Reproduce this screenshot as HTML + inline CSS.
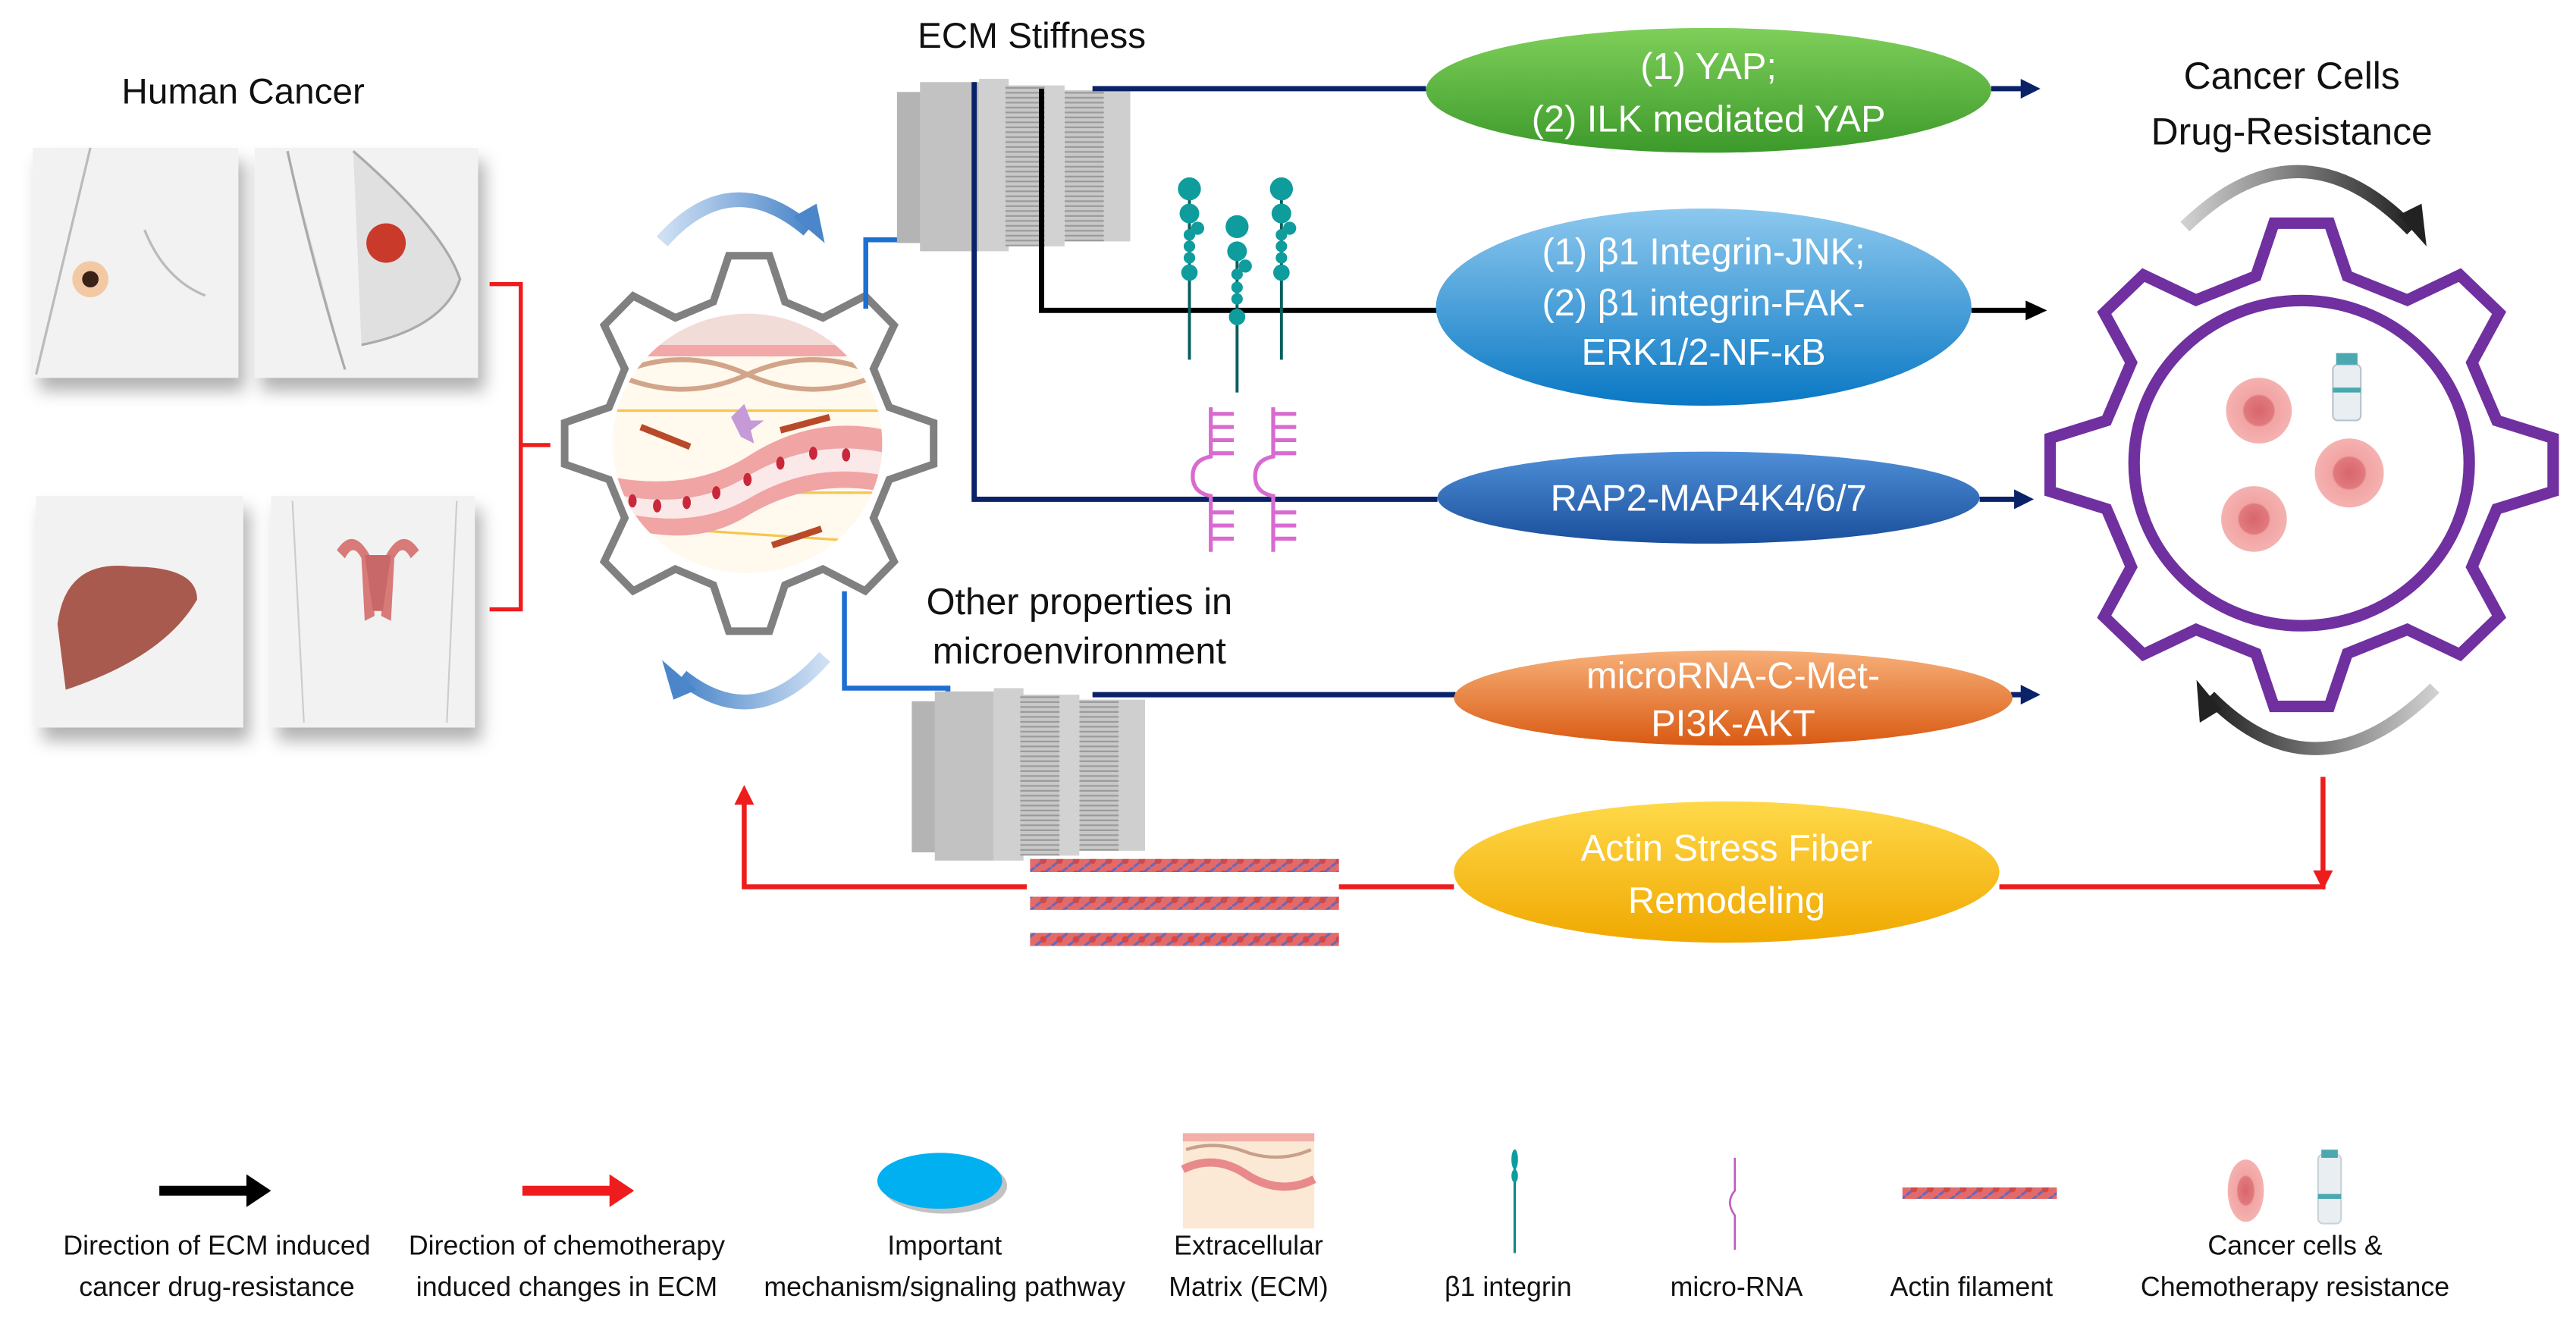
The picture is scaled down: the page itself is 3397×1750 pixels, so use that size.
<!DOCTYPE html>
<html><head><meta charset="utf-8">
<style>
html,body{margin:0;padding:0;background:#fff;}
svg{display:block;}
text{font-family:"Liberation Sans Narrow","Liberation Sans",sans-serif;}
</style></head>
<body>
<svg id="s" width="3397" height="1750" viewBox="0 0 1568 808" preserveAspectRatio="none" xmlns="http://www.w3.org/2000/svg">
<defs>
<linearGradient id="gG" x1="0" y1="0" x2="0" y2="1"><stop offset="0" stop-color="#7fcf5a"/><stop offset="1" stop-color="#3c9a2a"/></linearGradient>
<linearGradient id="gB" x1="0" y1="0" x2="0" y2="1"><stop offset="0" stop-color="#8cc8ee"/><stop offset="1" stop-color="#0a78c4"/></linearGradient>
<linearGradient id="gD" x1="0" y1="0" x2="0" y2="1"><stop offset="0" stop-color="#4f8fd8"/><stop offset="1" stop-color="#1a4f9c"/></linearGradient>
<linearGradient id="gO" x1="0" y1="0" x2="0" y2="1"><stop offset="0" stop-color="#f7b079"/><stop offset="1" stop-color="#d95a12"/></linearGradient>
<linearGradient id="gY" x1="0" y1="0" x2="0" y2="1"><stop offset="0" stop-color="#ffd94a"/><stop offset="1" stop-color="#f0a800"/></linearGradient>
<linearGradient id="gArc" x1="0" y1="0" x2="1" y2="0"><stop offset="0" stop-color="#cfe0f4"/><stop offset="1" stop-color="#4a86c9"/></linearGradient>
<linearGradient id="gArc2" x1="1" y1="0" x2="0" y2="0"><stop offset="0" stop-color="#cfe0f4"/><stop offset="1" stop-color="#4a86c9"/></linearGradient>
<linearGradient id="gK" x1="0" y1="0" x2="1" y2="0"><stop offset="0" stop-color="#d0d0d0"/><stop offset="1" stop-color="#222"/></linearGradient>
<linearGradient id="gK2" x1="1" y1="0" x2="0" y2="0"><stop offset="0" stop-color="#d0d0d0"/><stop offset="1" stop-color="#222"/></linearGradient>
<radialGradient id="gCell"><stop offset="0" stop-color="#d8666c"/><stop offset=".45" stop-color="#e07a7e"/><stop offset=".5" stop-color="#f2a4a4"/><stop offset="1" stop-color="#f4b2b0"/></radialGradient>
<filter id="sh" x="-20%" y="-20%" width="150%" height="150%"><feDropShadow dx="4" dy="8" stdDeviation="5" flood-color="#000" flood-opacity=".3"/></filter>
<pattern id="act" width="10" height="8" patternUnits="userSpaceOnUse"><rect width="10" height="8" fill="#e46a6a"/><path d="M0 8 L10 0" stroke="#6a68b8" stroke-width="1.5"/><circle cx="5" cy="4" r="2" fill="#d04848"/></pattern>
<pattern id="fins" width="4" height="3" patternUnits="userSpaceOnUse"><rect width="4" height="3" fill="#c8c8c8"/><rect y="2" width="4" height="1" fill="#9a9a9a"/></pattern>
</defs>

<text x="148" y="63" font-size="22" text-anchor="middle" fill="#111">Human Cancer</text>
<g filter="url(#sh)">
<rect x="20" y="90" width="125" height="140" fill="#f2f2f2"/>
<rect x="155" y="90" width="136" height="140" fill="#f2f2f2"/>
<rect x="22" y="302" width="126" height="141" fill="#f2f2f2"/>
<rect x="165" y="302" width="124" height="141" fill="#f2f2f2"/>
</g>
<path d="M55 90 L22 228 M88 140 Q100 170 125 180" stroke="#bbb" fill="none" stroke-width="1.5"/>
<circle cx="55" cy="170" r="11" fill="#f3c9a4"/><circle cx="55" cy="170" r="5" fill="#3a2218"/>
<path d="M175 92 Q190 160 210 225 M215 92 Q270 140 280 170 Q270 200 220 210" stroke="#aaa" fill="#e0e0e0" stroke-width="1.5"/>
<circle cx="235" cy="148" r="12" fill="#c93a2a"/>
<path d="M35 380 Q40 340 80 345 Q120 345 120 365 Q100 400 40 420 Z" fill="#a85a4e"/>
<path d="M178 305 L185 440 M278 305 L272 440" stroke="#ccc" fill="none"/>
<path d="M205 335 Q215 320 225 338 L228 375 L222 378 L220 340 Q215 330 210 340 Z M255 335 Q245 320 235 338 L232 375 L238 378 L240 340 Q245 330 250 340 Z" fill="#d77a78"/>
<path d="M222 338 L238 338 L233 372 L227 372 Z" fill="#c86868"/>

<path d="M298 173 L317 173 L317 371 L298 371 M317 271 L335 271" stroke="#ee1c1c" stroke-width="2.5" fill="none"/>

<path id="g1" fill="#fff" stroke="#808080" stroke-width="4.6" stroke-linejoin="miter"/>
<g>
<clipPath id="cc"><ellipse cx="455" cy="270" rx="82" ry="79"/></clipPath>
<g clip-path="url(#cc)">
<rect x="370" y="188" width="170" height="165" fill="#fff9ee"/>
<rect x="370" y="188" width="170" height="22" fill="#f2dcd8"/>
<rect x="370" y="210" width="170" height="7" fill="#f2a8a8"/>
<path d="M375 228 Q415 210 455 228 Q495 246 535 228 M375 228 Q415 246 455 228 Q495 210 535 228" stroke="#d2a58a" stroke-width="3" fill="none"/>
<path d="M370 250 L540 250 M370 300 L540 300 M380 320 L530 330" stroke="#f3c750" stroke-width="1.5"/>
<path d="M370 290 Q420 300 455 278 Q495 252 540 262 L540 300 Q495 290 455 314 Q420 336 370 318 Z" fill="#f0a4a4"/>
<path d="M370 300 Q420 312 455 290 Q495 266 540 276 L540 290 Q495 280 455 304 Q420 324 370 310 Z" fill="#fbe8e8"/>
<g fill="#c8283a"><ellipse cx="385" cy="305" rx="2.5" ry="4"/><ellipse cx="400" cy="308" rx="2.5" ry="4"/><ellipse cx="418" cy="306" rx="2.5" ry="4"/><ellipse cx="436" cy="300" rx="2.5" ry="4"/><ellipse cx="455" cy="292" rx="2.5" ry="4"/><ellipse cx="475" cy="282" rx="2.5" ry="4"/><ellipse cx="495" cy="276" rx="2.5" ry="4"/><ellipse cx="515" cy="277" rx="2.5" ry="4"/></g>
<path d="M390 260 L420 272 M475 262 L505 254 M470 332 L500 322" stroke="#b84a2a" stroke-width="4"/>
<path d="M445 254 l8 -8 l4 10 l8 0 l-8 6 l2 8 l-8 -4 z" fill="#c59ad6"/>
</g></g>

<path d="M403 147 Q445 100 492 140" stroke="url(#gArc)" stroke-width="9" fill="none"/>
<path d="M483 132 L502 148 L497 124 Z" fill="#4a86c9"/>
<path d="M502 400 Q460 448 415 412" stroke="url(#gArc2)" stroke-width="9" fill="none"/>
<path d="M424 420 L403 402 L410 426 Z" fill="#4a86c9"/>

<path d="M527 188 L527 146 L557 146 L557 118" stroke="#1e6fd2" stroke-width="3" fill="none"/>
<path d="M551 120 L557 108 L563 120 Z" fill="#1e6fd2"/>
<path d="M514 360 L514 419 L577 419 L577 472" stroke="#1e6fd2" stroke-width="3" fill="none"/>
<path d="M571 470 L577 482 L583 470 Z" fill="#1e6fd2"/>

<g id="dev">
<rect x="546" y="56" width="30" height="92" fill="#b4b4b4"/>
<rect x="560" y="50" width="36" height="103" fill="#c2c2c2"/>
<rect x="596" y="48" width="18" height="105" fill="#d0d0d0"/>
<rect x="612" y="52" width="24" height="98" fill="url(#fins)"/>
<rect x="636" y="52" width="12" height="98" fill="#d2d2d2"/>
<rect x="648" y="55" width="24" height="92" fill="url(#fins)"/>
<rect x="672" y="55" width="16" height="92" fill="#cfcfcf"/>
</g>
<use href="#dev" transform="translate(9,371)"/>

<path d="M593 50 L593 304 L875 304" stroke="#0a2268" stroke-width="3.2" fill="none"/>
<path d="M1205 304 L1228 304" stroke="#0a2268" stroke-width="3.2"/><path d="M1226 298 L1238 304 L1226 310 Z" fill="#0a2268"/>
<path d="M665 54 L868 54" stroke="#0a2268" stroke-width="3.2"/>
<path d="M1212 54 L1232 54" stroke="#0a2268" stroke-width="3.2"/><path d="M1230 48 L1242 54 L1230 60 Z" fill="#0a2268"/>
<path d="M634 54 L634 189 L875 189" stroke="#000" stroke-width="3.2" fill="none"/>
<path d="M1200 189 L1234 189" stroke="#000" stroke-width="3.2"/><path d="M1233 183 L1246 189 L1233 195 Z" fill="#000"/>
<path d="M665 423 L886 423" stroke="#0a2268" stroke-width="3.2"/>
<path d="M1224 423 L1232 423" stroke="#0a2268" stroke-width="3.2"/><path d="M1230 417 L1242 423 L1230 429 Z" fill="#0a2268"/>

<g fill="#0f9c9c" stroke="#0a5e5e">
<g id="itg"><line x1="724" y1="118" x2="724" y2="219" stroke-width="1.8"/><circle cx="724" cy="115" r="7" stroke="none"/><circle cx="724" cy="130" r="6" stroke="none"/><circle cx="729" cy="139" r="4" stroke="none"/><circle cx="724" cy="143" r="3.5" stroke="none"/><circle cx="724" cy="150" r="3.5" stroke="none"/><circle cx="724" cy="157" r="3.5" stroke="none"/><circle cx="724" cy="166" r="5" stroke="none"/></g>
<line x1="753" y1="150" x2="753" y2="239" stroke-width="1.8"/><circle cx="753" cy="138" r="7" stroke="none"/><circle cx="753" cy="153" r="6" stroke="none"/><circle cx="758" cy="162" r="4" stroke="none"/><circle cx="753" cy="167" r="3.5" stroke="none"/><circle cx="753" cy="175" r="3.5" stroke="none"/><circle cx="753" cy="182" r="3.5" stroke="none"/><circle cx="753" cy="193" r="5" stroke="none"/>
<use href="#itg" transform="translate(56,0)"/>
</g>
<g stroke="#d86ad0" stroke-width="2.4" fill="none" id="mr">
<path d="M737 248 L737 278 Q726 280 726 290 Q726 300 737 302 L737 336"/>
<path d="M737 252 L751 252 M737 260 L751 260 M737 268 L751 268 M737 276 L751 276 M737 312 L751 312 M737 320 L751 320 M737 328 L751 328"/>
</g>
<use href="#mr" transform="translate(38,0)"/>

<text x="628" y="29" font-size="22" text-anchor="middle" fill="#111">ECM Stiffness</text>
<text x="657" y="374" font-size="22.5" text-anchor="middle" fill="#111">Other properties in</text>
<text x="657" y="404" font-size="22.5" text-anchor="middle" fill="#111">microenvironment</text>

<g font-size="22.5" text-anchor="middle" fill="#fff">
<ellipse cx="1040" cy="55" rx="172" ry="38" fill="url(#gG)"/>
<text x="1040" y="48">(1) YAP;</text>
<text x="1040" y="80">(2) ILK mediated YAP</text>
<ellipse cx="1037" cy="187" rx="163" ry="60" fill="url(#gB)"/>
<text x="1037" y="161">(1) β1 Integrin-JNK;</text>
<text x="1037" y="192">(2) β1 integrin-FAK-</text>
<text x="1037" y="222">ERK1/2-NF-κB</text>
<ellipse cx="1040" cy="303" rx="165" ry="28" fill="url(#gD)"/>
<text x="1040" y="311">RAP2-MAP4K4/6/7</text>
<ellipse cx="1055" cy="425" rx="170" ry="29" fill="url(#gO)"/>
<text x="1055" y="419">microRNA-C-Met-</text>
<text x="1055" y="448">PI3K-AKT</text>
<ellipse cx="1051" cy="531" rx="166" ry="43" fill="url(#gY)"/>
<text x="1051" y="524">Actin Stress Fiber</text>
<text x="1051" y="556">Remodeling</text>
</g>

<path d="M1217 540 L1414 540 L1414 473" stroke="#ee1c1c" stroke-width="3" fill="none"/>
<path d="M1408 530 L1414 542 L1420 530 Z" fill="#ee1c1c"/>
<path d="M625 540 L453 540 L453 488" stroke="#ee1c1c" stroke-width="3" fill="none"/>
<path d="M447 490 L453 478 L459 490 Z" fill="#ee1c1c"/>
<path d="M815 540 L885 540" stroke="#ee1c1c" stroke-width="3"/>
<rect x="627" y="523" width="188" height="8" fill="url(#act)"/>
<rect x="627" y="546" width="188" height="8" fill="url(#act)"/>
<rect x="627" y="568" width="188" height="8" fill="url(#act)"/>

<text x="1395" y="54" font-size="23" text-anchor="middle" fill="#111">Cancer Cells</text>
<text x="1395" y="88" font-size="23" text-anchor="middle" fill="#111">Drug-Resistance</text>
<path id="g2" fill="#fff" stroke="#7030a0" stroke-width="7"/>
<ellipse cx="1401" cy="282" rx="102" ry="99" fill="none" stroke="#7030a0" stroke-width="7"/>
<path d="M1330 138 Q1400 70 1468 140" stroke="url(#gK)" stroke-width="8" fill="none"/>
<path d="M1460 131 L1477 150 L1474 124 Z" fill="#222"/>
<path d="M1482 419 Q1410 490 1345 424" stroke="url(#gK2)" stroke-width="8" fill="none"/>
<path d="M1352 432 L1337 414 L1339 440 Z" fill="#222"/>
<circle cx="1375" cy="250" r="20" fill="url(#gCell)"/>
<circle cx="1430" cy="288" r="21" fill="url(#gCell)"/>
<circle cx="1372" cy="316" r="20" fill="url(#gCell)"/>
<rect x="1420" y="222" width="17" height="34" rx="3" fill="#e8eef2" stroke="#b8c4cc"/>
<rect x="1422" y="215" width="13" height="7" fill="#4aa8b0"/>
<rect x="1420" y="236" width="17" height="3" fill="#4aa8b0"/>

<path d="M97 722 L150 722 L150 715 L165 725 L150 735 L150 728 L97 728 Z" fill="#000"/>
<path d="M318 722 L371 722 L371 715 L386 725 L371 735 L371 728 L318 728 Z" fill="#ee1c1c"/>
<ellipse cx="575" cy="722" rx="38" ry="17" fill="#0a0a0a" opacity=".25"/>
<ellipse cx="572" cy="719" rx="38" ry="17" fill="#00b0f0"/>
<rect x="720" y="690" width="80" height="58" fill="#fbe9d6"/>
<rect x="720" y="690" width="80" height="5" fill="#f2b0a8"/>
<path d="M720 712 Q740 702 760 716 Q780 728 800 718" stroke="#e88a8a" stroke-width="5" fill="none"/>
<path d="M722 700 Q740 694 760 702 Q780 708 798 700" stroke="#c8a08a" stroke-width="2" fill="none"/>
<line x1="922" y1="700" x2="922" y2="763" stroke="#0f8a8a" stroke-width="1.5"/><ellipse cx="922" cy="706" rx="2" ry="6" fill="#0f9c9c"/><ellipse cx="922" cy="716" rx="2" ry="4" fill="#0f9c9c"/>
<path d="M1056 705 L1056 725 Q1050 732 1056 740 L1056 761" stroke="#c05ac0" stroke-width="1.2" fill="none"/>
<rect x="1158" y="723" width="94" height="7" fill="url(#act)"/>
<ellipse cx="1367" cy="725" rx="11" ry="19" fill="url(#gCell)"/>
<rect x="1411" y="703" width="14" height="42" rx="3" fill="#e8eef2" stroke="#c8d2d8"/>
<rect x="1413" y="700" width="10" height="5" fill="#4aa8b0"/><rect x="1411" y="727" width="14" height="3" fill="#4aa8b0"/>
<g font-size="16.5" text-anchor="middle" fill="#111">
<text x="132" y="764">Direction of ECM induced</text><text x="132" y="789">cancer drug-resistance</text>
<text x="345" y="764">Direction of chemotherapy</text><text x="345" y="789">induced changes in ECM</text>
<text x="575" y="764">Important</text><text x="575" y="789">mechanism/signaling pathway</text>
<text x="760" y="764">Extracellular</text><text x="760" y="789">Matrix (ECM)</text>
<text x="918" y="789">β1 integrin</text>
<text x="1057" y="789">micro-RNA</text>
<text x="1200" y="789">Actin filament</text>
<text x="1397" y="764">Cancer cells &amp;</text><text x="1397" y="789">Chemotherapy resistance</text>
</g>
</svg>
<script>
function gear(cx,cy,Rx,Ry,rx,ry,at,ab,off){
 var d="";var n=8;
 for(var i=0;i<n;i++){
  var a=off+i*2*Math.PI/n;
  var pts=[[a-ab,rx,ry],[a-at,Rx,Ry],[a+at,Rx,Ry],[a+ab,rx,ry]];
  for(var j=0;j<4;j++){var p=pts[j];var x=cx+p[1]*Math.cos(p[0]),y=cy+p[2]*Math.sin(p[0]);d+=(d?"L":"M")+x.toFixed(1)+" "+y.toFixed(1)+" ";}
 }
 return d+"Z";
}
document.getElementById("g1").setAttribute("d",gear(456,270,113,115,88,89,0.11,0.25,-Math.PI/2));
document.getElementById("g2").setAttribute("d",gear(1401,283,154,148,122,118,0.11,0.23,-Math.PI/2));
</script>
</body></html>
